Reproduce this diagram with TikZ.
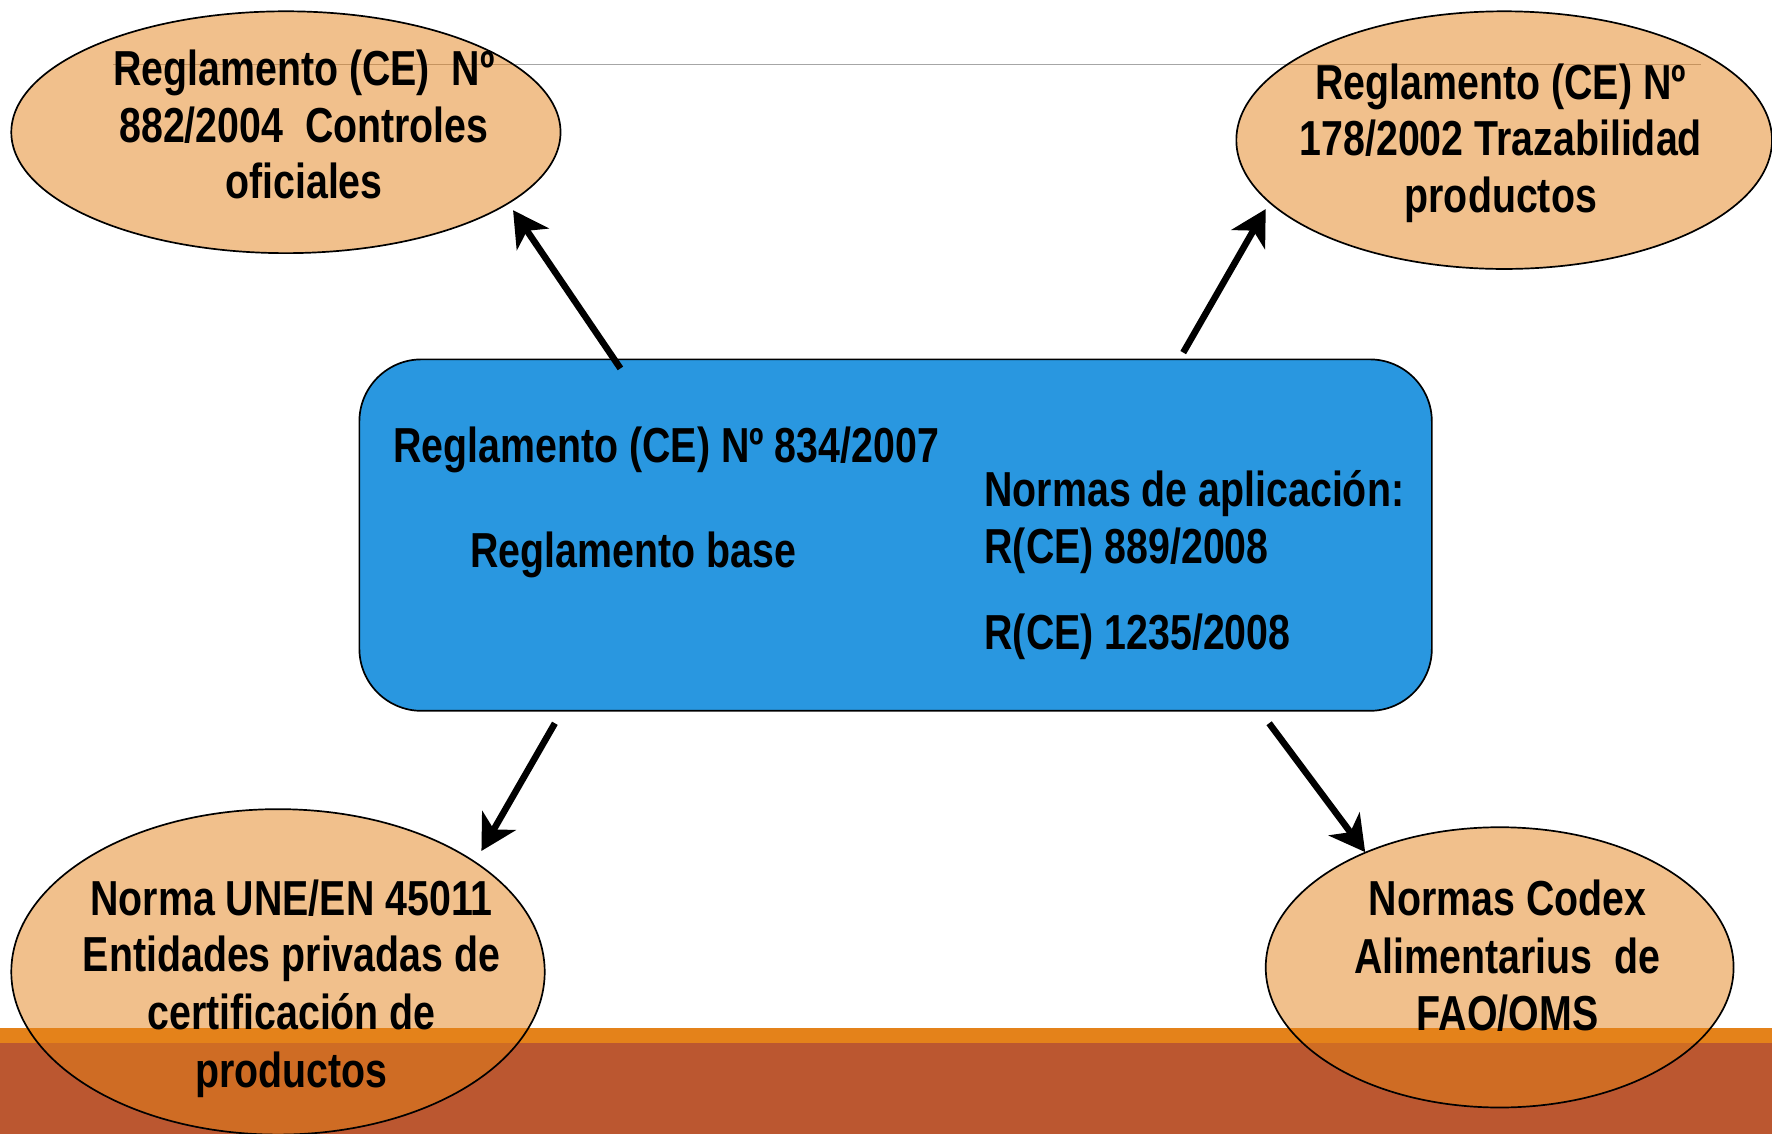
\documentclass[tikz,border=0pt]{standalone}
\usepackage{fontspec}
\setmainfont[FakeStretch=0.8]{Liberation Sans}
\usetikzlibrary{shapes.geometric,arrows.meta}
\definecolor{boxblue}{HTML}{2997E0}
\definecolor{bandorange}{HTML}{E4821A}
\definecolor{bandbrown}{HTML}{BB5730}
\definecolor{rulegray}{HTML}{A6A6A6}
\begin{document}
\begin{tikzpicture}[x=1pt,y=-1pt,
  ell/.style={ellipse, draw=black, line width=1.5pt, fill=bandorange,
    fill opacity=0.5, draw opacity=1, inner sep=0pt},
  basebox/.style={rectangle, rounded corners=55pt, draw=black, line width=1.5pt,
    fill=boxblue, inner sep=0pt},
  lbl/.style={font=\fontsize{43.5pt}{50pt}\selectfont\bfseries, inner sep=0pt,
    anchor=base, text=black},
  lbll/.style={lbl, anchor=base west},
  arr/.style={line width=5.8pt, draw=black,
    -{Stealth[length=31pt,width=34pt,inset=9pt]}}]
\useasboundingbox (0,0) rectangle (1568,1003);
\fill[white] (0,0) rectangle (1568,1003);
% bottom bands
\fill[bandorange] (0,910) rectangle (1568,923);
\fill[bandbrown] (0,923) rectangle (1568,1003);
% thin rule
\draw[rulegray, line width=1.5pt] (100,57) -- (1505,57);
% ellipses
\node[ell, minimum width=486pt, minimum height=214pt] (tl) at (253,117) {};
\node[ell, minimum width=474pt, minimum height=228pt] (tr) at (1331,124) {};
\node[ell, minimum width=472pt, minimum height=288pt] (bl) at (246,860) {};
\node[ell, minimum width=414pt, minimum height=248pt] (br) at (1327,856) {};
% central box
\node[basebox, minimum width=949pt, minimum height=311pt] (base) at (792.5,473.5) {};
% arrows
\coordinate (a1s) at (549,326); \coordinate (a1e) at (454,186);
\coordinate (a2s) at (1047,312); \coordinate (a2e) at (1120,185);
\coordinate (a3s) at (491,640); \coordinate (a3e) at (426,753);
\coordinate (a4s) at (1123,640); \coordinate (a4e) at (1208,754);
\draw[arr] (a1s) -- (a1e);
\draw[arr] (a2s) -- (a2e);
\draw[arr] (a3s) -- (a3e);
\draw[arr] (a4s) -- (a4e);
% texts top-left
\node[lbl] (tla) at (269,76) {Reglamento (CE)\ \ Nº};
\node[lbl] (tlb) at (269,126) {882/2004\ \ Controles};
\node[lbl] (tlc) at (269,176) {oficiales};
% texts top-right
\node[lbl] (tra) at (1328,88) {Reglamento (CE) Nº};
\node[lbl] (trb) at (1328,138) {178/2002 Trazabilidad};
\node[lbl] (trc) at (1328,188) {productos};
% texts bottom-left
\node[lbl] (bla) at (258,810) {Norma UNE/EN 45011};
\node[lbl] (blb) at (258,860) {Entidades privadas de};
\node[lbl] (blc) at (258,911) {certificación de};
\node[lbl] (bld) at (258,962) {productos};
% texts bottom-right
\node[lbl] (bra) at (1334,810) {Normas Codex};
\node[lbl] (brb) at (1334,861) {Alimentarius\ \ de};
\node[lbl] (brc) at (1334,912) {FAO/OMS};
% texts in box
\node[lbll] (ba) at (348,409) {Reglamento (CE) Nº 834/2007};
\node[lbll] (bb) at (416,502) {Reglamento base};
\node[lbll] (bc) at (871,448) {Normas de aplicación:};
\node[lbll] (bd) at (871,499) {R(CE) 889/2008};
\node[lbll] (be) at (871,575) {R(CE) 1235/2008};
\end{tikzpicture}
\end{document}
